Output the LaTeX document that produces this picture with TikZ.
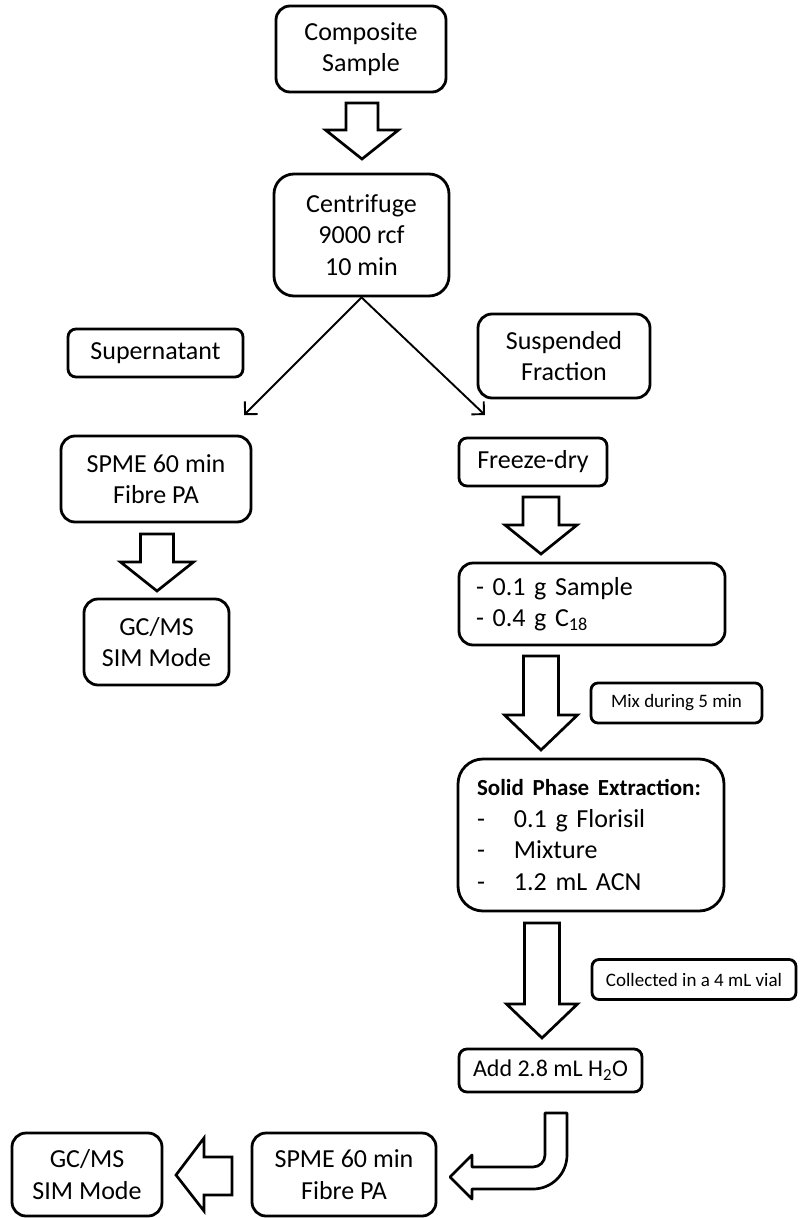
\documentclass[tikz,border=0pt]{standalone}
\usepackage{fontspec}
\setmainfont{Carlito}
\usetikzlibrary{arrows.meta,calc}
\newcommand{\blockdown}[6]{%
  \draw[blk] ({#1-#5},#2) -- ({#1+#5},#2) -- ({#1+#5},#3) -- ({#1+#6},#3)
    -- (#1,#4) -- ({#1-#6},#3) -- ({#1-#5},#3) -- cycle;}
\begin{document}
\begin{tikzpicture}[x=1pt,y=-1pt,
  box/.style={draw, line width=2.8pt, align=center, inner sep=0pt,
    font=\fontsize{26}{31.5}\selectfont},
  smallbox/.style={box, font=\fontsize{19}{23}\selectfont},
  blk/.style={draw, line width=2.7pt, fill=white, line join=miter},
  thinarr/.style={line width=1.9pt, -{Straight Barb[length=9pt,width=18pt]}}]
\useasboundingbox (0,0) rectangle (801,1218);

% nodes
\node[box, minimum width=170pt, minimum height=86pt, rounded corners=14pt] (comp) at (361,49) {Composite\\Sample};
\node[box, minimum width=175pt, minimum height=122pt, rounded corners=20pt] (cent) at (361.5,235) {Centrifuge\\9000 rcf\\10 min};
\node[box, minimum width=175pt, minimum height=48pt, rounded corners=8pt] (super) at (155.5,353) {Supernatant};
\node[box, minimum width=172pt, minimum height=84pt, rounded corners=14pt] (susp) at (564,356) {Suspended\\Fraction};
\node[box, minimum width=190pt, minimum height=86pt, rounded corners=14pt] (spme1) at (156,479) {SPME 60 min\\Fibre PA};
\node[box, minimum width=148pt, minimum height=48pt, rounded corners=8pt] (freeze) at (533,462) {Freeze-dry};
\node[box, minimum width=145pt, minimum height=86pt, rounded corners=14pt] (gcms1) at (156.5,642) {GC/MS\\SIM Mode};
\node[box, align=left, text width=232pt, inner xsep=17pt, minimum height=82pt, rounded corners=14pt] (sample) at (592,604)
  {\mbox{- 0.1 g Sample}\\\mbox{- 0.4 g C\textsubscript{18}}};
\node[smallbox, minimum width=171pt, minimum height=40pt, rounded corners=7pt] (mix) at (676.5,703) {Mix during 5 min};
\node[box, align=left, text width=228pt, inner xsep=19pt, minimum height=152pt, rounded corners=25pt] (spe) at (591,835)
  {\mbox{\fontsize{23}{31.5}\selectfont\bfseries Solid Phase Extraction:}\\
   \mbox{\makebox[37pt][l]{-}0.1 g Florisil}\\
   \mbox{\makebox[37pt][l]{-}Mixture}\\
   \mbox{\makebox[37pt][l]{-}1.2 mL ACN}};
\node[smallbox, minimum width=204pt, minimum height=40pt, rounded corners=7pt] (coll) at (694,979.5) {Collected in a 4 mL vial};
\node[box, font=\fontsize{24}{28}\selectfont, minimum width=183pt, minimum height=43pt, rounded corners=8pt] (add) at (550.5,1070.5) {Add 2.8 mL H\textsubscript{2}O};
\node[box, minimum width=184pt, minimum height=83pt, rounded corners=14pt] (spme2) at (344,1174.5) {SPME 60 min\\Fibre PA};
\node[box, minimum width=150pt, minimum height=83pt, rounded corners=14pt] (gcms2) at (87,1174.5) {GC/MS\\SIM Mode};

% thin arrows from centrifuge
\coordinate (lend) at (244,415);
\coordinate (rend) at (485,415);
\draw[thinarr] (cent.south) -- (lend);
\draw[thinarr] (cent.south) -- (rend);

% block arrows
\blockdown{362}{103}{130}{159}{16}{36.5}
\blockdown{157}{534}{562}{591}{16.5}{36.5}
\blockdown{541}{497}{525}{554}{18}{36}
\blockdown{541}{656}{715}{750}{17.5}{36.5}
\blockdown{542}{923}{1004}{1038}{17.5}{35.5}

% bent arrow from Add to SPME
\draw[blk, line join=round] (545,1113) -- (567,1113) -- (567,1155)
  .. controls (567,1173.8) and (551.8,1189) .. (533,1189)
  -- (472,1189) -- (472,1199) -- (450,1177) -- (472,1155) -- (472,1167) -- (533,1167)
  .. controls (539.6,1167) and (545,1161.6) .. (545,1155) -- cycle;

% left arrow SPME -> GC/MS
\draw[blk] (232,1157) -- (232,1195) -- (204,1195) -- (204,1211) -- (176,1175)
  -- (204,1138) -- (204,1157) -- cycle;
\end{tikzpicture}
\end{document}
